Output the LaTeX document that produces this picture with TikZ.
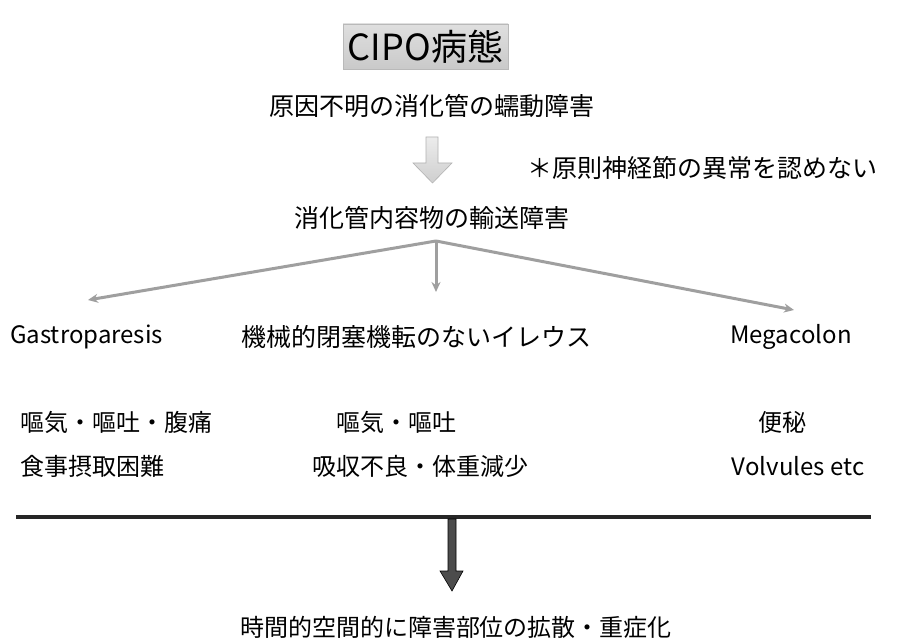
\documentclass[tikz,border=0pt]{standalone}
\usepackage{fontspec}
\setmainfont{Noto Sans CJK JP}
\usetikzlibrary{arrows.meta}
\tikzset{
  txt/.style={inner sep=0pt, font=\fontsize{24}{28}\selectfont, text=black},
  bigtxt/.style={txt, font=\fontsize{25}{29}\selectfont},
  graylink/.style={draw=gray!75, line width=3pt, -{Stealth[length=10pt,width=9pt]}},
}
\begin{document}
\begin{tikzpicture}[x=1pt,y=-1pt]
\useasboundingbox[fill=white] (0,0) rectangle (922,644);
% title
\node[draw=gray!55, line width=0.4pt, top color=gray!25, bottom color=gray!42, minimum width=165pt, minimum height=45pt, inner sep=0pt, font=\fontsize{36}{40}\selectfont, text=black] (title) at (425.5,46.5) {CIPO病態};
\node[bigtxt] (cause) at (432,106) {原因不明の消化管の蠕動障害};
% light block arrow
\path[draw=gray!60, line width=0.6pt, top color=gray!15, bottom color=gray!38]
  (426,137) -- (438,137) -- (438,163) -- (452,163) -- (432.5,183) -- (413,163) -- (426,163) -- cycle;
\node[bigtxt] (note) at (702,168) {＊原則神経節の異常を認めない};
\node[bigtxt] (transport) at (432,218) {消化管内容物の輸送障害};
% branching arrows
\coordinate (apex) at (436,241);
\coordinate (tipL) at (88,300);
\coordinate (tipM) at (436,292);
\coordinate (tipR) at (794,310);
\draw[graylink] (apex) -- (tipL);
\draw[graylink] (apex) -- (tipM);
\draw[graylink] (apex) -- (tipR);
% categories
\node[txt, anchor=west] (gastro) at (10,337) {Gastroparesis};
\node[bigtxt] (ileus) at (416,337) {機械的閉塞機転のないイレウス};
\node[txt] (mega) at (791,337) {Megacolon};
% symptoms
\node[txt, anchor=west] (g1) at (20,422) {嘔気・嘔吐・腹痛};
\node[txt] (i1) at (396,422) {嘔気・嘔吐};
\node[txt] (m1) at (782,422) {便秘};
\node[txt, anchor=west] (g2) at (20,466) {食事摂取困難};
\node[txt] (i2) at (420,466) {吸収不良・体重減少};
\node[txt] (m2) at (798,466) {Volvules etc};
% rule and dark arrow
\coordinate (ruleL) at (16,517);
\coordinate (ruleR) at (871,517);
\draw[line width=4pt, black!85] (ruleL) -- (ruleR);
\path[draw=black, line width=0.6pt, fill=black!70]
  (448,519) -- (456,519) -- (456,571) -- (463,571) -- (452,591) -- (440,571) -- (448,571) -- cycle;
\node[txt] (result) at (456,627) {時間的空間的に障害部位の拡散・重症化};
\end{tikzpicture}
\end{document}
